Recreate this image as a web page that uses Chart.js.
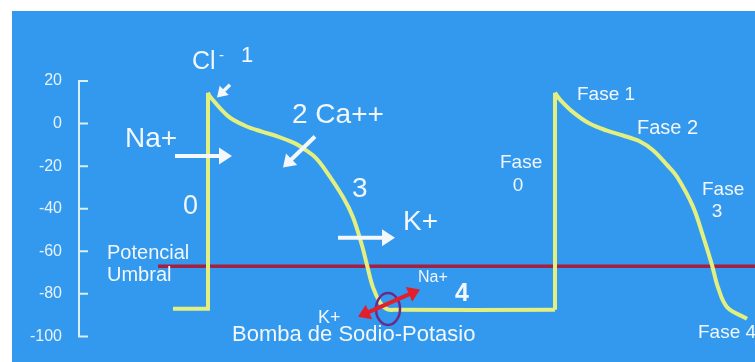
<!DOCTYPE html>
<html>
<head>
<meta charset="utf-8">
<title>Potencial de acción cardíaco</title>
<script src="https://cdn.jsdelivr.net/npm/chart.js@4.4.1/dist/chart.umd.min.js"></script>
<style>
  html, body { margin: 0; padding: 0; background: #ffffff; }
  #wrap { position: absolute; left: 12px; top: 11px; width: 743px; height: 351px; }
</style>
</head>
<body>
<div id="wrap"><canvas id="c" width="743" height="351"></canvas></div>
<script>
// Membrane potential axis (mV)
const potentialTicks = [20, 0, -20, -40, -60, -80, -100];

// First action potential: resting level and phase 0 upstroke (time in ms, potential in mV)
const upstroke1Time = [95, 130, 130];
const upstroke1Mv   = [-87, -87, 14.5];

// First action potential: phases 1-3 and phase 4 resting level
const repol1Time = [130, 132, 150, 167, 184, 200, 217, 227, 237, 247, 265, 275, 284, 289, 295, 302, 309, 318, 477];
const repol1Mv   = [14.5, 12.7, 3.5, -1, -3.8, -6.1, -9.3, -12.2, -15.8, -21.6, -34.5, -44, -57.3, -66.5, -77, -84, -87.2, -87.5, -87.5];

// Second action potential: phase 0 upstroke
const upstroke2Time = [477, 477];
const upstroke2Mv   = [-87.5, 14.5];

// Second action potential: phases 1-4
const repol2Time = [477, 482, 495, 512, 529, 545, 562, 575, 589, 599, 615, 625, 634, 640, 649, 669];
const repol2Mv   = [14.5, 11.3, 5.4, -0.1, -3.3, -5.6, -8.4, -12.5, -19.4, -25, -39, -52.8, -66.5, -77, -86.2, -91.7];

// Threshold potential (Potencial Umbral)
const thresholdTime = [80, 677];
const thresholdMv   = [-67, -67];

const pts = (xs, ys) => xs.map((x, i) => ({ x: x, y: ys[i] }));

const CURVE = '#e3ef7f';
const TEXT = '#f1f7fb';
const FONT = '"Liberation Sans", Arial, Helvetica, sans-serif';

// Text labels, placed in data coordinates (ms, mV)
const labels = [
  { t: 'Cl', x: 114, y: 28.7, s: 25 },
  { t: '-', x: 141, y: 32, s: 15 },
  { t: '1', x: 163, y: 31.9, s: 22 },
  { t: 'Na+', x: 47, y: -7.5, s: 28 },
  { t: '2 Ca++', x: 214, y: 4.0, s: 28 },
  { t: '3', x: 274, y: -30.8, s: 28 },
  { t: 'K+', x: 325, y: -46.4, s: 28 },
  { t: '0', x: 105, y: -39.0, s: 27 },
  { t: 'Potencial', x: 29, y: -61.0, s: 20 },
  { t: 'Umbral', x: 29, y: -71.5, s: 20 },
  { t: 'Na+', x: 340, y: -72.4, s: 16 },
  { t: '4', x: 377, y: -80.2, s: 25, b: true },
  { t: 'K+', x: 240, y: -91.2, s: 18 },
  { t: 'Bomba de Sodio-Potasio', x: 154, y: -99.5, s: 22 },
  { t: 'Fase 1', x: 499, y: 13.6, s: 19 },
  { t: 'Fase 2', x: 559, y: -2.4, s: 20 },
  { t: 'Fase', x: 422, y: -18.4, s: 19 },
  { t: '0', x: 440, y: -29.0, s: 19, c: true },
  { t: 'Fase', x: 624, y: -31.3, s: 19 },
  { t: '3', x: 639, y: -41.3, s: 19, c: true },
  { t: 'Fase 4', x: 620, y: -98.1, s: 19 }
];

// Ion-flow arrows: tail -> tip in data coordinates
const arrows = [
  { x1: 152, y1: 18.2, x2: 139, y2: 12.3, w: 3.5, len: 10, half: 6.5 },
  { x1: 97, y1: -15.2, x2: 154, y2: -15.2, w: 4, len: 13, half: 8.5 },
  { x1: 237, y1: -6.1, x2: 205, y2: -20.7, w: 4, len: 12, half: 8 },
  { x1: 260, y1: -53.7, x2: 317, y2: -53.7, w: 4, len: 13, half: 8.5 }
];

function head(ctx, x, y, ang, len, half) {
  const c = Math.cos(ang), s = Math.sin(ang);
  const bx = x - len * c, by = y - len * s;
  ctx.beginPath();
  ctx.moveTo(x, y);
  ctx.lineTo(bx - half * s, by + half * c);
  ctx.lineTo(bx + half * s, by - half * c);
  ctx.closePath();
  ctx.fill();
}

function arrow(ctx, x1, y1, x2, y2, color, w, len, half, both) {
  const ang = Math.atan2(y2 - y1, x2 - x1);
  const c = Math.cos(ang), s = Math.sin(ang);
  ctx.save();
  ctx.strokeStyle = color;
  ctx.fillStyle = color;
  ctx.lineWidth = w;
  ctx.beginPath();
  const sx = both ? x1 + c * len * 0.7 : x1;
  const sy = both ? y1 + s * len * 0.7 : y1;
  ctx.moveTo(sx, sy);
  ctx.lineTo(x2 - c * len * 0.7, y2 - s * len * 0.7);
  ctx.stroke();
  head(ctx, x2, y2, ang, len, half);
  if (both) head(ctx, x1, y1, ang + Math.PI, len, half);
  ctx.restore();
}

const backdrop = {
  id: 'backdrop',
  beforeDraw(chart) {
    const ctx = chart.ctx;
    ctx.save();
    ctx.fillStyle = '#3399ee';
    ctx.fillRect(0, 0, chart.width, chart.height);
    ctx.restore();
  }
};

// Bracket-style potential axis with inward tick marks
const bracketAxis = {
  id: 'bracketAxis',
  afterDraw(chart) {
    const ctx = chart.ctx, ys = chart.scales.y;
    const x0 = chart.chartArea.left + 1;
    ctx.save();
    ctx.strokeStyle = '#d8f0f0';
    ctx.lineWidth = 2;
    ctx.beginPath();
    ctx.moveTo(x0, ys.getPixelForValue(potentialTicks[0]) - 1);
    ctx.lineTo(x0, ys.getPixelForValue(potentialTicks[potentialTicks.length - 1]) + 1);
    potentialTicks.forEach(v => {
      const y = ys.getPixelForValue(v);
      ctx.moveTo(x0, y);
      ctx.lineTo(x0 + 9, y);
    });
    ctx.stroke();
    ctx.restore();
  }
};

const notes = {
  id: 'notes',
  afterDatasetsDraw(chart) {
    const ctx = chart.ctx, xs = chart.scales.x, ys = chart.scales.y;
    const X = v => xs.getPixelForValue(v), Y = v => ys.getPixelForValue(v);

    arrows.forEach(a => arrow(ctx, X(a.x1), Y(a.y1), X(a.x2), Y(a.y2), '#f4f8fb', a.w, a.len, a.half, false));

    // Sodium-potassium pump marker
    ctx.save();
    ctx.strokeStyle = '#6b2a8a';
    ctx.lineWidth = 2.5;
    ctx.beginPath();
    ctx.ellipse(X(310), Y(-87.1), 12, 16, 0, 0, Math.PI * 2);
    ctx.stroke();
    ctx.restore();
    arrow(ctx, X(280), Y(-90.8), X(342), Y(-78.0), '#e21f2c', 4, 12, 8, true);

    ctx.save();
    ctx.fillStyle = TEXT;
    ctx.textBaseline = 'middle';
    labels.forEach(l => {
      ctx.font = (l.b ? 'bold ' : '') + l.s + 'px ' + FONT;
      ctx.textAlign = l.c ? 'center' : 'left';
      ctx.fillText(l.t, X(l.x), Y(l.y));
    });
    ctx.restore();
  }
};

const lineBase = { pointRadius: 0, borderColor: CURVE, borderWidth: 4, fill: false, borderJoinStyle: 'miter', order: 1 };

new Chart(document.getElementById('c'), {
  type: 'line',
  data: {
    datasets: [
      Object.assign({ label: 'Fase 0', data: pts(upstroke1Time, upstroke1Mv), tension: 0 }, lineBase),
      Object.assign({ label: 'Fases 1-4', data: pts(repol1Time, repol1Mv), tension: 0.35 }, lineBase),
      Object.assign({ label: 'Fase 0 (2)', data: pts(upstroke2Time, upstroke2Mv), tension: 0 }, lineBase),
      Object.assign({ label: 'Fases 1-4 (2)', data: pts(repol2Time, repol2Mv), tension: 0.35 }, lineBase),
      { label: 'Potencial Umbral', data: pts(thresholdTime, thresholdMv), borderColor: '#a51f3e', borderWidth: 3.5, pointRadius: 0, tension: 0, order: 5 }
    ]
  },
  options: {
    responsive: false,
    animation: false,
    devicePixelRatio: 1,
    layout: { padding: { left: 0, right: 0, top: 70, bottom: 19 } },
    scales: {
      x: { type: 'linear', min: 0, max: 677, display: false },
      y: {
        type: 'linear', min: -100, max: 20,
        afterBuildTicks: s => { s.ticks = potentialTicks.map(v => ({ value: v })); },
        afterFit: s => { s.width = 66; },
        grid: { display: false, drawTicks: false },
        border: { display: false },
        ticks: { color: '#e8f2fa', padding: 16, font: { family: FONT, size: 16 } }
      }
    },
    plugins: { legend: { display: false }, tooltip: { enabled: false } }
  },
  plugins: [backdrop, bracketAxis, notes]
});
</script>
</body>
</html>
